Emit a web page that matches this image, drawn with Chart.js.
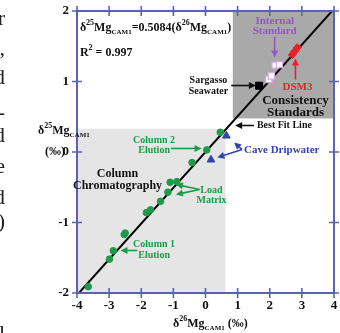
<!DOCTYPE html>
<html>
<head>
<meta charset="utf-8">
<script src="https://cdn.jsdelivr.net/npm/chart.js@4.4.0/dist/chart.umd.min.js"></script>
<style>
  html, body { margin: 0; padding: 0; background: #fff; overflow: hidden; }
</style>
</head>
<body>
<canvas id="chart" width="340" height="333"></canvas>
<script>
// values (per mil)
const colX = [-3.65, -2.99, -2.87, -2.53, -2.50, -1.84, -1.71, -1.40, -1.17, -1.10, -0.89, -0.42, 0.04, 0.46];
const colY = [-1.91, -1.52, -1.40, -1.17, -1.15, -0.86, -0.82, -0.70, -0.57, -0.43, -0.42, -0.15, 0.03, 0.28];
const caveX = [0.65, 0.17];
const caveY = [0.23, -0.11];
const sargX = [1.67];
const sargY = [0.94];
const intX = [1.97, 2.05, 2.17, 2.30];
const intY = [1.03, 1.08, 1.23, 1.24];
const dsmX = [2.70, 2.78, 2.86];
const dsmY = [1.38, 1.43, 1.48];
const fitX = [-4, 4];
const fitY = [-2.03, 2.03];
const xTicks = [-4, -3, -2, -1, 0, 1, 2, 3, 4];
const yTicks = [-2, -1, 0, 1, 2];

const SERIF = '"Liberation Serif", "DejaVu Serif", serif';
const AXIS = '#5a62b5';
const GREEN = '#1f9a48';
const BLUE = '#3344aa';
const PURPLE = '#9457c2';
const RED = '#e2232b';

function pts(xs, ys) {
    let out = [];
    for (let i = 0; i < xs.length; i++) out.push({x: xs[i], y: ys[i]});
    return out;
}
function font(sz, w) { return (w || 'bold') + ' ' + sz + 'px ' + SERIF; }

// text with sub/superscripts: parts = [[text, size, dy], ...]
function rich(ctx, x, y, parts, color, align) {
    let w = 0;
    parts.forEach(p => { ctx.font = font(p[1]); w += ctx.measureText(p[0]).width; });
    let cx = align == 'center' ? x - w / 2 : x;
    ctx.fillStyle = color;
    ctx.textAlign = 'left';
    ctx.textBaseline = 'alphabetic';
    parts.forEach(p => {
        ctx.font = font(p[1]);
        ctx.fillText(p[0], cx, y + (p[2] || 0));
        cx += ctx.measureText(p[0]).width;
    });
}
function lines(ctx, x, y, txt, sz, color, gap) {
    ctx.font = font(sz);
    ctx.fillStyle = color;
    ctx.textAlign = 'center';
    ctx.textBaseline = 'middle';
    txt.forEach((t, i) => ctx.fillText(t, x, y + i * gap));
}
function arrow(ctx, x1, y1, x2, y2, color) {
    let a = Math.atan2(y2 - y1, x2 - x1);
    let hl = 7, hw = 3.5;
    ctx.strokeStyle = color;
    ctx.fillStyle = color;
    ctx.lineWidth = 1.6;
    ctx.beginPath();
    ctx.moveTo(x1, y1);
    ctx.lineTo(x2 - Math.cos(a) * hl * 0.8, y2 - Math.sin(a) * hl * 0.8);
    ctx.stroke();
    ctx.beginPath();
    ctx.moveTo(x2, y2);
    ctx.lineTo(x2 - Math.cos(a) * hl - Math.sin(a) * hw, y2 - Math.sin(a) * hl + Math.cos(a) * hw);
    ctx.lineTo(x2 - Math.cos(a) * hl + Math.sin(a) * hw, y2 - Math.sin(a) * hl - Math.cos(a) * hw);
    ctx.closePath();
    ctx.fill();
}

// shaded areas, data units
const boxes = [
    {x0: -4, x1: 0.62, y0: -2, y1: 0.33, color: '#e4e5e4'},
    {x0: 0.85, x1: 4, y0: 0.476, y1: 2, color: '#a9a9a9'}
];

const figPlugin = {
    id: 'fig',
    beforeDatasetsDraw(chart) {
        const ctx = chart.ctx, xs = chart.scales.x, ys = chart.scales.y;
        ctx.save();
        boxes.forEach(b => {
            let l = xs.getPixelForValue(b.x0), r = xs.getPixelForValue(b.x1);
            let t = ys.getPixelForValue(b.y1), bt = ys.getPixelForValue(b.y0);
            ctx.fillStyle = b.color;
            ctx.fillRect(l, t, r - l, bt - t);
        });
        ctx.restore();
    },
    afterDraw(chart) {
        const ctx = chart.ctx, xs = chart.scales.x, ys = chart.scales.y, ca = chart.chartArea;
        const X = v => xs.getPixelForValue(v), Y = v => ys.getPixelForValue(v);
        ctx.save();

        // frame + ticks on all four sides
        ctx.strokeStyle = AXIS;
        ctx.lineWidth = 2;
        ctx.strokeRect(ca.left, ca.top, ca.right - ca.left, ca.bottom - ca.top);
        ctx.lineWidth = 1.6;
        ctx.beginPath();
        xs.ticks.forEach(t => {
            let p = X(t.value);
            ctx.moveTo(p, ca.bottom - 5); ctx.lineTo(p, ca.bottom + 5);
            ctx.moveTo(p, ca.top - 5); ctx.lineTo(p, ca.top + 5);
        });
        ys.ticks.forEach(t => {
            let p = Y(t.value);
            ctx.moveTo(ca.left - 5, p); ctx.lineTo(ca.left + 5, p);
            ctx.moveTo(ca.right - 5, p); ctx.lineTo(ca.right + 5, p);
        });
        ctx.stroke();

        // equation
        rich(ctx, X(-3.91), Y(1.71), [['δ', 12], ['25', 8, -6], ['Mg', 12], ['CAM1', 7, 3], ['=0.5084(δ', 12], ['26', 8, -6], ['Mg', 12], ['CAM1', 7, 3], [')', 12]], '#111');
        rich(ctx, X(-3.91), Y(1.355), [['R', 12], ['2', 8, -6], [' = 0.997', 12]], '#111');

        // labels
        lines(ctx, X(2.154), Y(1.851), ['Internal', 'Standard'], 11, PURPLE, 10);
        arrow(ctx, X(2.154), Y(1.638), X(2.154), Y(1.34), PURPLE);
        lines(ctx, X(2.862), Y(0.915), ['DSM3'], 11, RED, 10);
        arrow(ctx, X(2.80), Y(1.028), X(2.80), Y(1.326), RED);
        lines(ctx, X(0.092), Y(1.014), ['Sargasso', 'Seawater'], 10, '#111', 11);
        arrow(ctx, X(0.80), Y(0.943), X(1.569), Y(0.943), '#111');
        lines(ctx, X(2.80), Y(0.73), ['Consistency', 'Standards'], 13, '#111', 12);

        ctx.font = font(10);
        ctx.fillStyle = '#111';
        ctx.textAlign = 'left';
        ctx.textBaseline = 'middle';
        ctx.fillText('Best Fit Line', X(1.6), Y(0.376));
        arrow(ctx, X(1.508), Y(0.376), X(0.923), Y(0.376), '#111');

        ctx.font = font(11);
        ctx.fillStyle = BLUE;
        ctx.fillText('Cave Dripwater', X(1.2), Y(0.021));
        arrow(ctx, X(1.138), Y(0.035), X(0.892), Y(0.135), BLUE);
        arrow(ctx, X(1.138), Y(0.035), X(0.369), Y(-0.078), BLUE);

        lines(ctx, X(-1.6), Y(0.163), ['Column 2', 'Elution'], 10, GREEN, 10);
        arrow(ctx, X(-1.077), Y(0.05), X(-0.123), Y(0.05), GREEN);
        lines(ctx, X(-2.738), Y(-0.305), ['Column', 'Chromatography'], 12, '#111', 12);
        lines(ctx, X(0.185), Y(-0.546), ['Load', 'Matrix'], 10, GREEN, 10);
        arrow(ctx, X(-0.185), Y(-0.532), X(-0.923), Y(-0.461), GREEN);
        arrow(ctx, X(-0.185), Y(-0.532), X(-0.923), Y(-0.603), GREEN);
        lines(ctx, X(-1.6), Y(-1.312), ['Column 1', 'Elution'], 10, GREEN, 11);
        arrow(ctx, X(-2.123), Y(-1.397), X(-2.646), Y(-1.397), GREEN);

        // axis titles
        rich(ctx, 38, 134, [['δ', 12], ['25', 8, -6], ['Mg', 12], ['CAM1', 7, 3]], '#111');
        rich(ctx, 55, 155, [['(‰)', 12]], '#111', 'center');
        rich(ctx, 173, 327, [['δ', 12], ['26', 8, -6], ['Mg', 12], ['CAM1', 7, 3], [' (‰)', 12]], '#111');

        // text of the page cut at the left edge
        ctx.font = font(22, 'normal');
        ctx.fillStyle = '#222';
        ctx.textAlign = 'right';
        ctx.textBaseline = 'alphabetic';
        [['r', 25], [',', 55], ['d', 84], ['-', 119], ['d', 142], ['e', 173], ['d', 204], [')', 228], ['l', 340]].forEach(f => {
            ctx.fillText(f[0], 5, f[1]);
        });
        ctx.restore();
    }
};

const tickFont = {family: SERIF, size: 13, weight: 'bold'};

new Chart(document.getElementById('chart'), {
    type: 'scatter',
    data: {
        datasets: [
            {type: 'line', data: pts(fitX, fitY), borderColor: '#000', borderWidth: 2, pointRadius: 0, order: 5},
            {data: pts(colX, colY), backgroundColor: GREEN, borderColor: GREEN, pointRadius: 3.3, order: 1},
            {data: pts(caveX, caveY), backgroundColor: BLUE, borderColor: BLUE, pointStyle: 'triangle', pointRadius: 4.5, order: 1},
            {data: pts(sargX, sargY), backgroundColor: '#000', borderColor: '#000', pointStyle: 'rect', pointRadius: 5, order: 1},
            {data: pts(intX, intY), backgroundColor: '#fff', borderColor: '#d6a8e4', borderWidth: 1.2, pointStyle: 'rect', pointRadius: 4.5, order: 1},
            {data: pts(dsmX, dsmY), backgroundColor: RED, borderColor: RED, pointStyle: 'rect', pointRadius: 4, rotation: 40, order: 1}
        ]
    },
    options: {
        responsive: false,
        animation: false,
        events: [],
        layout: {padding: {top: 11, right: 3, left: 0, bottom: 0}},
        plugins: {legend: {display: false}, tooltip: {enabled: false}},
        scales: {
            x: {
                type: 'linear', min: -4, max: 4,
                afterBuildTicks: s => { s.ticks = xTicks.map(v => ({value: v})); },
                afterFit: s => { s.height = 40; s.paddingLeft = 0; s.paddingRight = 0; },
                grid: {display: false, drawTicks: false},
                border: {display: false},
                ticks: {color: '#111', font: tickFont, padding: 5, maxRotation: 0}
            },
            y: {
                type: 'linear', min: -2, max: 2,
                afterBuildTicks: s => { s.ticks = yTicks.map(v => ({value: v})); },
                afterFit: s => { s.width = 77; s.paddingTop = 0; s.paddingBottom = 0; },
                grid: {display: false, drawTicks: false},
                border: {display: false},
                ticks: {color: '#111', font: tickFont, padding: 8}
            }
        }
    },
    plugins: [figPlugin]
});
</script>
</body>
</html>
